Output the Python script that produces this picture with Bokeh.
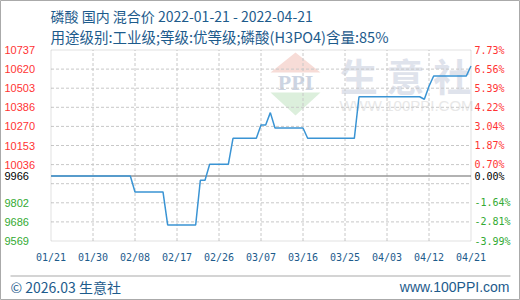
from datetime import datetime, timedelta
from bokeh.plotting import figure
from bokeh.models import (ColumnDataSource, LabelSet, Label, BoxAnnotation, PolyAnnotation)
from bokeh.core.properties import value
from bokeh.embed import file_html
from bokeh.resources import INLINE

# ---- data ----
dates = ["2022-01-21", "2022-02-07", "2022-02-08", "2022-02-14", "2022-02-15", "2022-02-21",
         "2022-02-22", "2022-02-23", "2022-02-24", "2022-02-28", "2022-03-01", "2022-03-06",
         "2022-03-07", "2022-03-08", "2022-03-09", "2022-03-10", "2022-03-16", "2022-03-17",
         "2022-03-27", "2022-03-28", "2022-04-10", "2022-04-11", "2022-04-12", "2022-04-13",
         "2022-04-20", "2022-04-21"]
prices = [9966, 9966, 9869, 9869, 9667, 9667, 9940, 9940, 10038, 10038, 10197, 10197,
          10278, 10278, 10354, 10260, 10260, 10197, 10197, 10451, 10451, 10436, 10515, 10578,
          10578, 10639]
base_price = 9966
y_min, y_max = 9569, 10737
left_ticks = [10737, 10620, 10503, 10386, 10270, 10153, 10036, 9966, 9802, 9686, 9569]
left_labels = ["10737", "10620", "10503", "10386", "10270", "10153", "10036", "9966", "9802", "9686", "9569"]
right_labels = ["7.73%", "6.56%", "5.39%", "4.22%", "3.04%", "1.87%", "0.70%", "0.00%", "-1.64%", "-2.81%", "-3.99%"]
grid_values = [10620.2, 10503.4, 10386.6, 10269.8, 10153, 10036.2, 9919.4, 9802.6, 9685.8]
x_tick_dates = ["2022-01-21", "2022-01-30", "2022-02-08", "2022-02-17", "2022-02-26", "2022-03-07",
                "2022-03-16", "2022-03-25", "2022-04-03", "2022-04-12", "2022-04-21"]
x_tick_labels = ["01/21", "01/30", "02/08", "02/17", "02/26", "03/07", "03/16", "03/25", "04/03", "04/12", "04/21"]
title1 = "磷酸 国内 混合价 2022-01-21 - 2022-04-21"
title2 = "用途级别:工业级;等级:优等级;磷酸(H3PO4)含量:85%"
footer_left = "© 2026.03 生意社"
footer_right = "www.100PPI.com"

def to_dt(s):
    return datetime.strptime(s, "%Y-%m-%d")

xs = [to_dt(d) for d in dates]
xt = [to_dt(d) for d in x_tick_dates]

# ---- layout (pixels) ----
W, H = 520, 300
PX0, PX1 = 50.5, 470.5      # plot area left/right in canvas px
PY0, PY1 = 49.5, 240.5      # plot area top/bottom in canvas px

t0, t1 = xt[0], xt[-1]
span_ms = (t1 - t0).total_seconds() * 1000
ms_per_px = span_ms / (PX1 - PX0)
x_start = t0 - timedelta(milliseconds=PX0 * ms_per_px)
x_end = t1 + timedelta(milliseconds=(W - PX1) * ms_per_px)
u_per_px = (y_max - y_min) / (PY1 - PY0)
y_top = y_max + PY0 * u_per_px
y_bot = y_min - (H - PY1) * u_per_px

p = figure(width=W, height=H, x_axis_type="datetime",
           x_range=(x_start, x_end), y_range=(y_bot, y_top),
           toolbar_location=None, output_backend="svg", title=None,
           min_border=0, min_border_left=0, min_border_right=0, min_border_top=0, min_border_bottom=0,
           x_axis_location=None, y_axis_location=None)
p.outline_line_color = "#aaaaaa"
p.outline_line_width = 1
p.background_fill_color = "white"
p.border_fill_color = "white"
p.grid.visible = False

C = "canvas"
BLUE = "#1d5b8c"
MONO = "DejaVu Sans Mono"
# watermark
p.add_layout(PolyAnnotation(xs=[270, 320, 295], ys=[72, 72, 52], xs_units=C, ys_units=C,
                            fill_color="#f7dcd7", fill_alpha=1, line_color=None, level="underlay"))
p.add_layout(PolyAnnotation(xs=[270, 320, 295], ys=[92, 92, 115], xs_units=C, ys_units=C,
                            fill_color="#dcefdc", fill_alpha=1, line_color=None, level="underlay"))
p.add_layout(Label(x=295, y=82, x_units=C, y_units=C, text="PPI", text_align="center",
                   text_baseline="middle", text_font="Liberation Serif", text_font_size="22px",
                   text_font_style="bold", text_color="#ccd4e2", level="underlay"))
p.add_layout(Label(x=405, y=74, x_units=C, y_units=C, text="生 意 社", text_align="center",
                   text_baseline="middle", text_font="Noto Sans CJK SC", text_font_size="38px",
                   text_font_style="bold", text_color="#dfe3ec", level="underlay"))
p.add_layout(Label(x=406, y=105, x_units=C, y_units=C, text="WWW.100PPI.COM", text_align="center",
                   text_baseline="middle", text_font="Liberation Sans", text_font_size="15px",
                   text_color="#e8e8e8", level="underlay"))

# grid lines
p.segment(x0=xt[1:-1], y0=[y_min] * (len(xt) - 2), x1=xt[1:-1], y1=[y_max] * (len(xt) - 2),
          line_color="#c8c8c8", line_dash="3 2", line_width=1)
p.segment(x0=[t0] * len(grid_values), y0=grid_values, x1=[t1] * len(grid_values), y1=grid_values,
          line_color="#c8c8c8", line_dash="3 2", line_width=1)

# plot area frame
p.add_layout(BoxAnnotation(left=t0, right=t1, bottom=y_min, top=y_max, fill_alpha=0,
                           line_color="#999999", line_width=1))

# baseline
p.segment(x0=[t0], y0=[base_price], x1=[t1], y1=[base_price], line_color="#999999", line_width=1.5)

# price line
p.line(xs, prices, line_color="#3a94d4", line_width=1.5)

# tick labels
left_colors = ["#ff3333" if v > base_price else ("#000000" if v == base_price else "#33aa33") for v in left_ticks]
lsrc = ColumnDataSource(dict(y=left_ticks, t=left_labels, r=right_labels, c=left_colors))
p.add_layout(LabelSet(x=4, y="y", x_units=C, text="t", source=lsrc, text_color="c",
                      text_align="left", text_baseline="middle", text_font=value("Liberation Sans"),
                      text_font_size=value("11px")))
p.add_layout(LabelSet(x=474, y="y", x_units=C, text="r", source=lsrc, text_color="c",
                      text_align="left", text_baseline="middle", text_font=value(MONO),
                      text_font_size=value("10px")))
xsrc = ColumnDataSource(dict(x=xt, t=x_tick_labels))
p.add_layout(LabelSet(x="x", y=257, y_units=C, text="t", source=xsrc, text_color=BLUE,
                      text_align="center", text_baseline="middle", text_font=value(MONO),
                      text_font_size=value("10px")))

# titles
p.add_layout(Label(x=50, y=15, x_units=C, y_units=C, text=title1, text_align="left",
                   text_baseline="middle", text_font="Noto Sans CJK SC", text_font_size="14px",
                   text_color=BLUE))
p.add_layout(Label(x=50, y=36, x_units=C, y_units=C, text=title2, text_align="left",
                   text_baseline="middle", text_font="Noto Sans CJK SC", text_font_size="14.5px",
                   text_color=BLUE))

# footer
p.add_layout(BoxAnnotation(left=10, right=510, top=275, bottom=276, left_units=C,
                           right_units=C, top_units=C, bottom_units=C,
                           fill_color="#aaaaaa", fill_alpha=1, line_color=None))
p.add_layout(Label(x=10, y=286, x_units=C, y_units=C, text=footer_left, text_align="left",
                   text_baseline="middle", text_font="Noto Sans CJK SC", text_font_size="14px",
                   text_color=BLUE))
p.add_layout(Label(x=509, y=286, x_units=C, y_units=C, text=footer_right, text_align="right",
                   text_baseline="middle", text_font="Liberation Sans", text_font_size="14px",
                   text_color=BLUE))

open("out.html", "w").write(file_html(p, INLINE))
